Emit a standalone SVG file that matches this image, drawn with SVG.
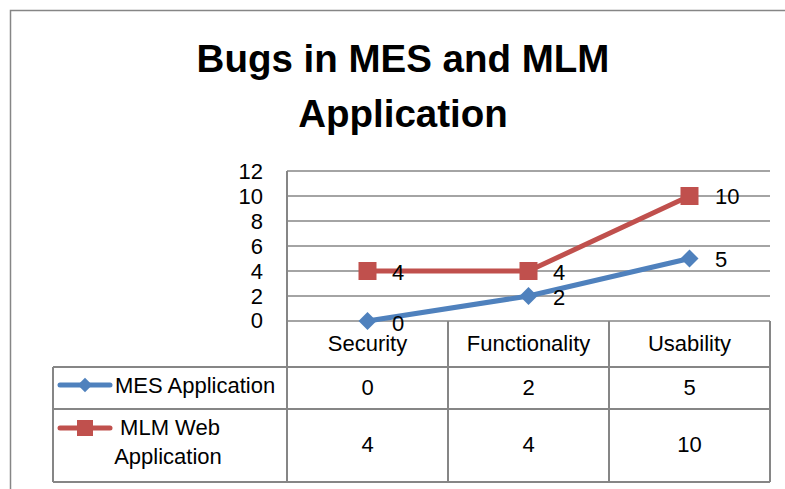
<svg xmlns="http://www.w3.org/2000/svg" width="785" height="489" viewBox="0 0 785 489">
<style>
text{font-family:"Liberation Sans",Arial,sans-serif;fill:#000}
.t{font-size:38.5px;font-weight:bold;text-anchor:middle}
.l{font-size:22px}
.m{text-anchor:middle}
.r{text-anchor:end}
.g{stroke:#868686;stroke-width:1.5;fill:none}
.tb{stroke:#868686;stroke-width:2;fill:none}
.blue{stroke:#4F81BD;stroke-width:5;fill:none;stroke-linejoin:round;stroke-linecap:round}
.red{stroke:#C0504D;stroke-width:5;fill:none;stroke-linejoin:round;stroke-linecap:round}
</style>
<defs>
<path id="dia" d="M0,-9 L9,0 L0,9 L-9,0 Z" fill="#4F81BD"/>
<rect id="sq" x="-9" y="-9" width="18" height="18" fill="#C0504D"/>
</defs>
<rect width="785" height="489" fill="#fff"/>
<g id="frame"><path class="g" d="M10.5,489 V10.5 H785" stroke-width="2"/></g>
<g id="title">
<text class="t" x="403" y="72">Bugs in MES and MLM</text>
<text class="t" x="403" y="127">Application</text>
</g>
<g id="grid">
<path class="g" d="M287,171H770M287,196H770M287,221H770M287,246H770M287,271H770M287,296H770M287,321H770"/>
</g>
<g id="yaxis" class="l">
<text class="l r" x="263" y="178.5">12</text>
<text class="l r" x="263" y="203.5">10</text>
<text class="l r" x="263" y="228.5">8</text>
<text class="l r" x="263" y="253.5">6</text>
<text class="l r" x="263" y="278.5">4</text>
<text class="l r" x="263" y="303.5">2</text>
<text class="l r" x="263" y="328">0</text>
</g>
<g id="table">
<path class="tb" d="M287,171V482M448,321V482M609,321V482M770,321V482M53,367H770M53,409H770M53,482H770M53,367V482"/>
<text class="l m" x="367.5" y="350.5">Security</text>
<text class="l m" x="528.5" y="350.5">Functionality</text>
<text class="l m" x="689.5" y="350.5">Usability</text>
<text class="l m" x="367.5" y="395">0</text>
<text class="l m" x="528.5" y="395">2</text>
<text class="l m" x="689.5" y="395">5</text>
<text class="l m" x="367.5" y="452">4</text>
<text class="l m" x="528.5" y="452">4</text>
<text class="l m" x="689.5" y="452">10</text>
</g>
<g id="legend-mes">
<path class="blue" d="M60,385H110"/>
<use href="#dia" x="85" y="385" transform="translate(85,385) scale(0.8) translate(-85,-385)"/>
<text class="l" x="115" y="393">MES Application</text>
</g>
<g id="legend-mlm">
<path class="red" d="M60,428H110"/>
<rect x="77" y="420" width="16" height="16" fill="#C0504D"/>
<text class="l m" x="170" y="435">MLM Web</text>
<text class="l m" x="168" y="464">Application</text>
</g>
<g id="series-mes">
<path class="blue" d="M367.5,321L528.5,296L689.5,258.5"/>
<use href="#dia" x="367.5" y="321"/>
<use href="#dia" x="528.5" y="296"/>
<use href="#dia" x="689.5" y="258.5"/>
<text class="l" x="392" y="331">0</text>
<text class="l" x="553" y="305">2</text>
<text class="l" x="715" y="267">5</text>
</g>
<g id="series-mlm">
<path class="red" d="M367.5,271L528.5,271L689.5,196"/>
<use href="#sq" x="367.5" y="271"/>
<use href="#sq" x="528.5" y="271"/>
<use href="#sq" x="689.5" y="196"/>
<text class="l" x="392" y="280">4</text>
<text class="l" x="553" y="280">4</text>
<text class="l" x="715" y="204">10</text>
</g>
</svg>
